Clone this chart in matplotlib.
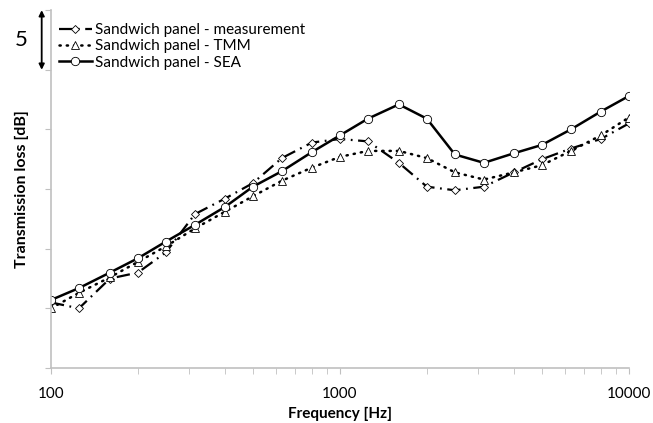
import matplotlib
matplotlib.use("Agg")
import matplotlib.pyplot as plt
import numpy as np

plt.rcParams['font.family'] = ['Lato', 'DejaVu Sans']

# third-octave band centre frequencies [Hz]
freq = [100, 125, 160, 200, 250, 315, 400, 500, 630, 800, 1000,
        1250, 1600, 2000, 2500, 3150, 4000, 5000, 6300, 8000, 10000]

# transmission loss, relative dB
tl_meas = [5.5, 5.0, 7.5, 8.0, 9.7, 12.9, 14.2, 15.5, 17.6, 18.9, 19.2,
           19.0, 17.2, 15.2, 14.9, 15.2, 16.4, 17.5, 18.4, 19.2, 20.5]
tl_tmm = [5.0, 6.3, 7.6, 8.9, 10.2, 11.7, 13.1, 14.4, 15.7, 16.8, 17.7,
          18.2, 18.2, 17.6, 16.4, 15.8, 16.4, 17.0, 18.2, 19.5, 21.0]
tl_sea = [5.7, 6.7, 8.0, 9.2, 10.6, 12.0, 13.5, 15.2, 16.5, 18.1, 19.5,
          20.9, 22.1, 20.9, 17.9, 17.2, 18.0, 18.7, 20.0, 21.5, 22.8]

fig = plt.figure(figsize=(6.53, 4.23), dpi=100)
ax = fig.add_axes([0.078, 0.130, 0.885, 0.846])

ax.plot(freq, tl_meas, color='black', lw=1.6, dashes=(6, 2.5, 0.8, 2.5),
        marker='D', ms=4.4, mfc='white', mec='black', mew=0.6,
        label='Sandwich panel - measurement')
ax.plot(freq, tl_tmm, color='black', lw=1.8, dashes=(0.5, 2.4),
        dash_capstyle='round',
        marker='^', ms=5.2, mfc='white', mec='black', mew=0.6,
        label='Sandwich panel - TMM')
ax.plot(freq, tl_sea, color='black', lw=1.8,
        marker='o', ms=6, mfc='white', mec='black', mew=0.6,
        label='Sandwich panel - SEA')

ax.set_xscale('log')
ax.set_xlim(100, 10000)
ax.set_ylim(0, 30)
ax.set_yticks(np.arange(0, 31, 5))
ax.set_yticklabels([])
ax.set_xticks([100, 1000, 10000])
ax.set_xticklabels(['100', '1000', '10000'])

for s in ['top', 'right']:
    ax.spines[s].set_visible(False)
for s in ['left', 'bottom']:
    ax.spines[s].set_color('#c0c0c0')
    ax.spines[s].set_linewidth(1.2)
ax.tick_params(axis='both', which='both', color='#c0c0c0', direction='out')
ax.tick_params(axis='x', which='major', length=4, labelsize=11, pad=10)
ax.tick_params(axis='x', which='minor', length=4)
ax.tick_params(axis='y', length=4)

ax.set_xlabel('Frequency [Hz]', fontsize=11, fontweight='bold', labelpad=4)
ax.set_ylabel('Transmission loss [dB]', fontsize=11.5, fontweight='bold', labelpad=8)

# 5 dB scale bar
ax.annotate('', xy=(-0.016, 30), xytext=(-0.016, 25),
            xycoords=ax.get_yaxis_transform(), textcoords=ax.get_yaxis_transform(),
            arrowprops=dict(arrowstyle='<|-|>', color='black', lw=1.3,
                            mutation_scale=8, shrinkA=0, shrinkB=0),
            annotation_clip=False)
ax.text(-0.052, 27.5, '5', transform=ax.get_yaxis_transform(),
        fontsize=16, ha='center', va='center')

ax.legend(loc='upper left', bbox_to_anchor=(0.0, 0.985), frameon=False,
          fontsize=11, handlelength=2.2, handletextpad=0.2,
          labelspacing=0.15, borderaxespad=0.3, borderpad=0.2)

fig.savefig('out.png', dpi=100)
